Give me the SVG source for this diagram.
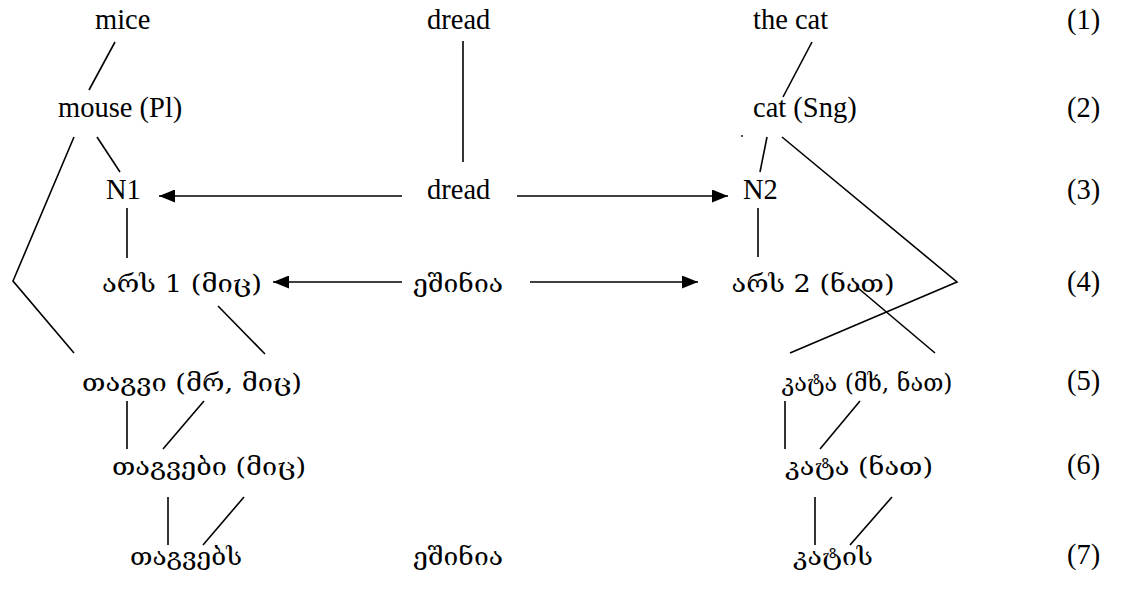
<svg xmlns="http://www.w3.org/2000/svg" width="1126" height="592" viewBox="0 0 1126 592">
<style>
.l{font-family:"Liberation Serif","Times New Roman",serif;font-size:28.5px;fill:#000}
.g{font-family:"DejaVu Serif","DejaVu Sans",serif;font-size:25px;fill:#000;text-anchor:middle}
.c{stroke:#000;stroke-width:1.6;fill:none}
</style>
<defs>
<marker id="ah" markerWidth="17" markerHeight="13" refX="16" refY="6.5" orient="auto" markerUnits="userSpaceOnUse">
<path d="M0,0 L16,6.5 L0,13 Z" fill="#000"/>
</marker>
</defs>
<rect width="1126" height="592" fill="#fff"/>
<g id="connectors" class="c">
<line x1="115" y1="42" x2="89" y2="90"/>
<line x1="97" y1="137" x2="120" y2="172"/>
<polyline points="74,137 13,281 74,353"/>
<line x1="127" y1="208" x2="127" y2="258"/>
<line x1="218" y1="306" x2="265" y2="354"/>
<line x1="463" y1="41" x2="463" y2="162"/>
<line x1="812" y1="42" x2="783" y2="97"/>
<line x1="767" y1="137" x2="760" y2="172"/>
<polyline points="782,137 957,282 790,353"/>
<line x1="758" y1="208" x2="758" y2="257"/>
<line x1="858" y1="288" x2="935" y2="353"/>
<line x1="127" y1="401" x2="127" y2="449"/>
<line x1="204" y1="401" x2="163" y2="449"/>
<line x1="168" y1="497" x2="168" y2="545"/>
<line x1="244" y1="497" x2="203" y2="545"/>
<line x1="785" y1="401" x2="785" y2="449"/>
<line x1="860" y1="401" x2="820" y2="449"/>
<line x1="815" y1="497" x2="815" y2="545"/>
<line x1="892" y1="497" x2="850" y2="545"/>
<line x1="402" y1="196" x2="159" y2="196" marker-end="url(#ah)"/>
<line x1="517" y1="196" x2="728" y2="196" marker-end="url(#ah)"/>
<line x1="402" y1="282" x2="273" y2="282" marker-end="url(#ah)"/>
<line x1="530" y1="282" x2="698" y2="282" marker-end="url(#ah)"/>
</g>
<circle cx="742" cy="136" r="0.9" fill="#000"/>
<g id="row1">
<text class="l" x="95" y="29">mice</text>
<text class="l" x="427" y="29">dread</text>
<text class="l" x="753" y="29">the cat</text>
<text class="l" x="1067" y="29">(1)</text>
</g>
<g id="row2">
<text class="l" x="58" y="117">mouse (Pl)</text>
<text class="l" x="753" y="117">cat (Sng)</text>
<text class="l" x="1067" y="117">(2)</text>
</g>
<g id="row3">
<text class="l" x="106" y="199">N1</text>
<text class="l" x="427" y="199">dread</text>
<text class="l" x="743" y="199">N2</text>
<text class="l" x="1067" y="199">(3)</text>
</g>
<g id="row4">
<text class="g" x="182" y="292" textLength="160" lengthAdjust="spacingAndGlyphs">არს  1  (მიც)</text>
<text class="g" x="458" y="292" textLength="90" lengthAdjust="spacingAndGlyphs">ეშინია</text>
<text class="g" x="813" y="292" textLength="163" lengthAdjust="spacingAndGlyphs">არს  2  (ნათ)</text>
<text class="l" x="1067" y="291">(4)</text>
</g>
<g id="row5">
<text class="g" x="192" y="391" textLength="220" lengthAdjust="spacingAndGlyphs">თაგვი  (მრ,  მიც)</text>
<text class="g" x="867" y="391" textLength="171" lengthAdjust="spacingAndGlyphs">კატა  (მხ,  ნათ)</text>
<text class="l" x="1067" y="390">(5)</text>
</g>
<g id="row6">
<text class="g" x="209" y="475" textLength="194" lengthAdjust="spacingAndGlyphs">თაგვები  (მიც)</text>
<text class="g" x="859" y="475" textLength="148" lengthAdjust="spacingAndGlyphs">კატა  (ნათ)</text>
<text class="l" x="1067" y="474">(6)</text>
</g>
<g id="row7">
<text class="g" x="186" y="565" textLength="112" lengthAdjust="spacingAndGlyphs">თაგვებს</text>
<text class="g" x="458" y="565" textLength="90" lengthAdjust="spacingAndGlyphs">ეშინია</text>
<text class="g" x="833" y="565" textLength="80" lengthAdjust="spacingAndGlyphs">კატის</text>
<text class="l" x="1067" y="564">(7)</text>
</g>
</svg>
